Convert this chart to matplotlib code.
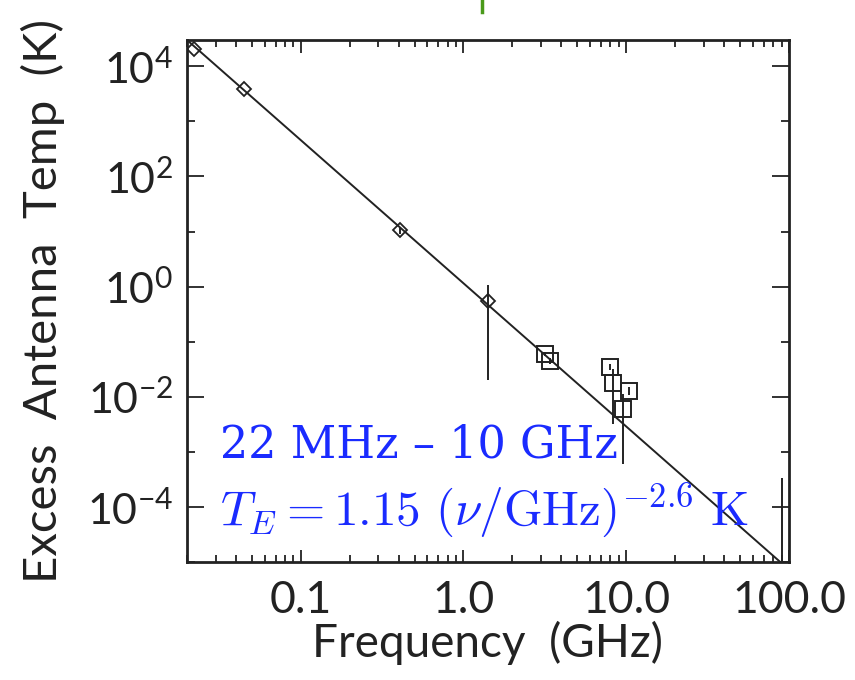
import matplotlib
matplotlib.use("Agg")
import matplotlib.pyplot as plt
import matplotlib.ticker as ticker
from matplotlib.lines import Line2D
import numpy as np

diamond_freq = [0.022, 0.045, 0.408, 1.42]
diamond_temp = [2.1e4, 3.8e3, 10.5, 0.56]
diamond_err_lo = [0.0, 0.0, 1.5, 0.54]
diamond_err_hi = [0.0, 0.0, 1.5, 0.49]

square_freq = [3.18, 3.42, 7.9, 8.3, 9.6, 10.4]
square_temp = [0.060, 0.045, 0.035, 0.018, 0.006, 0.0128]
square_err_lo = [0.006, 0.006, 0.004, 0.0148, 0.0054, 0.002]
square_err_hi = [0.006, 0.006, 0.004, 0.014, 0.0053, 0.002]

# lone error bar near the right edge
edge_freq = [90.0]
edge_temp = [5e-6]
edge_err_hi = [3.4e-4 - 5e-6]

# fitted power law
fit_amp = 1.15
fit_index = -2.6

x_ticks = [0.1, 1.0, 10.0, 100.0]
x_labels = ["0.1", "1.0", "10.0", "100.0"]
y_ticks = [1e-4, 1e-2, 1e0, 1e2, 1e4]
y_labels = [r"$10^{-4}$", r"$10^{-2}$", r"$10^{0}$", r"$10^{2}$", r"$10^{4}$"]

plt.rcParams["font.family"] = ["Lato", "DejaVu Sans"]
plt.rcParams["mathtext.fontset"] = "custom"
plt.rcParams["mathtext.rm"] = "Lato"
plt.rcParams["mathtext.it"] = "Lato"

fig = plt.figure(figsize=(8.55, 6.8), dpi=100)
ax = fig.add_axes([0.2187, 0.1735, 0.7041, 0.7676])

nu = np.logspace(np.log10(0.02), 2, 200)
ax.plot(nu, fit_amp * nu ** fit_index, color="#222222", lw=1.4)

ax.errorbar(diamond_freq, diamond_temp, yerr=[diamond_err_lo, diamond_err_hi],
            fmt="D", ms=7, mfc="none", mec="#222222", mew=1.3,
            ecolor="#222222", elinewidth=1.4, capsize=0)
ax.errorbar(square_freq, square_temp, yerr=[square_err_lo, square_err_hi],
            fmt="s", ms=12, mfc="none", mec="#222222", mew=1.4,
            ecolor="#222222", elinewidth=1.4, capsize=0)
ax.errorbar(edge_freq, edge_temp, yerr=[[0], edge_err_hi], fmt="none",
            ecolor="#222222", elinewidth=1.4, capsize=0)

ax.set_xscale("log")
ax.set_yscale("log")
ax.set_xlim(0.02, 100)
ax.set_ylim(1e-5, 3e4)

ax.xaxis.set_major_locator(ticker.FixedLocator(x_ticks))
ax.xaxis.set_major_formatter(ticker.FixedFormatter(x_labels))
ax.xaxis.set_minor_locator(ticker.LogLocator(base=10, subs=np.arange(2, 10)))
ax.xaxis.set_minor_formatter(ticker.NullFormatter())
ax.yaxis.set_major_locator(ticker.FixedLocator(y_ticks))
ax.yaxis.set_major_formatter(ticker.FixedFormatter(y_labels))
ax.yaxis.set_minor_locator(ticker.FixedLocator([1e-5, 1e-3, 1e-1, 1e1, 1e3]))
ax.yaxis.set_minor_formatter(ticker.NullFormatter())

ax.tick_params(which="both", direction="in", top=True, right=True,
               width=1.3, color="#222222", labelcolor="#222222")
ax.tick_params(axis="x", which="major", length=9, pad=13, labelsize=32)
ax.tick_params(axis="x", which="minor", length=5)
ax.tick_params(axis="y", which="major", length=12, pad=10, labelsize=31)
ax.tick_params(axis="y", which="minor", length=6)
for s in ax.spines.values():
    s.set_linewidth(2)
    s.set_color("#222222")

ax.set_xlabel("Frequency  (GHz)", fontsize=33, color="#222222", labelpad=0)
ax.set_ylabel("Excess  Antenna  Temp  (K)", fontsize=34, color="#222222", labelpad=16)

ax.text(0.055, 0.2, "22 MHz – 10 GHz", transform=ax.transAxes, fontsize=32,
        color="#1a2bff", family="DejaVu Serif")
ax.text(0.055, 0.07, r"$T_E = 1.15\ (\nu/\mathrm{GHz})^{-2.6}\ \mathrm{K}$",
        transform=ax.transAxes, fontsize=35.5, color="#1a2bff", math_fontfamily="cm")

fig.add_artist(Line2D([482 / 855, 482 / 855], [1.0, 1 - 12 / 680],
                      color="#4a9a1a", lw=2.5))

fig.savefig("out.png", dpi=100)
